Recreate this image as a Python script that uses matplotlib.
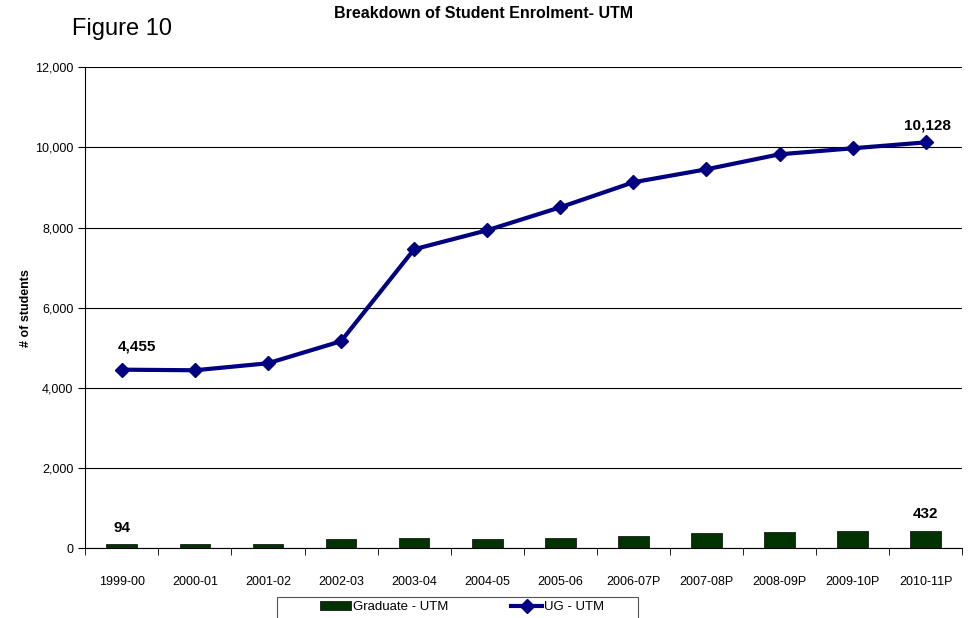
import matplotlib
matplotlib.use("Agg")
import matplotlib.pyplot as plt
from matplotlib.patches import Rectangle
from matplotlib.ticker import FuncFormatter

plt.rcParams['font.family'] = ['Liberation Sans', 'DejaVu Sans']

years = ["1999-00", "2000-01", "2001-02", "2002-03", "2003-04", "2004-05",
         "2005-06", "2006-07P", "2007-08P", "2008-09P", "2009-10P", "2010-11P"]
graduate = [94, 95, 110, 230, 245, 240, 265, 300, 385, 400, 425, 432]
undergrad = [4455, 4440, 4615, 5165, 7460, 7934, 8508, 9132, 9456, 9830, 9980, 10128]

fig = plt.figure(figsize=[9.69, 6.18], dpi=100)
ax = fig.add_axes([0.088, 0.113, 0.905, 0.778])

x = list(range(len(years)))
bars = ax.bar(x, graduate, width=0.42, color="#003300", edgecolor="#1a1a1a",
              linewidth=0.6, label="Graduate - UTM", zorder=3)
line, = ax.plot(x, undergrad, color="#000080", lw=3, marker="D", ms=7,
                label="UG - UTM", zorder=4)

ax.set_xlim(-0.5, len(years) - 0.5)
ax.set_ylim(0, 12000)
ax.set_yticks(range(0, 12001, 2000))
ax.yaxis.set_major_formatter(FuncFormatter(lambda v, p: f"{int(v):,}"))
ax.set_xticks(x)
ax.set_xticklabels(years, fontsize=9)
ax.set_xticks([i - 0.5 for i in range(len(years) + 1)], minor=True)
ax.tick_params(axis="x", which="major", length=0, pad=20)
ax.tick_params(axis="x", which="minor", length=5, direction="out")
ax.tick_params(axis="y", length=5, direction="out", labelsize=9)
ax.grid(axis="y", color="black", lw=0.8, zorder=0)
for side in ["top", "right"]:
    ax.spines[side].set_visible(False)
ax.set_ylabel("# of students", fontsize=9, fontweight="bold", labelpad=2)

# data labels on first and last points
ax.annotate(f"{undergrad[0]:,}", (x[0], undergrad[0]), xytext=(-3, 12),
            textcoords="offset points", ha="left", va="bottom",
            fontsize=11, fontweight="bold")
ax.annotate(f"{undergrad[-1]:,}", (x[-1], undergrad[-1]), xytext=(1, 7),
            textcoords="offset points", ha="center", va="bottom",
            fontsize=11, fontweight="bold")
ax.annotate(f"{graduate[0]}", (x[0], graduate[0]), xytext=(0, 7),
            textcoords="offset points", ha="center", va="bottom",
            fontsize=11, fontweight="bold")
ax.annotate(f"{graduate[-1]}", (x[-1], graduate[-1]), xytext=(0, 7),
            textcoords="offset points", ha="center", va="bottom",
            fontsize=11, fontweight="bold")

fig.text(0.4995, 0.978, "Breakdown of Student Enrolment- UTM", ha="center",
         va="center", fontsize=11.5, fontweight="bold")
fig.text(0.074, 0.953, "Figure 10", ha="left", va="center", fontsize=17)

# legend box (runs off the bottom edge like the original)
fig.patches.append(Rectangle((0.286, -0.02), 0.3725, 0.054, fill=False,
                             edgecolor="#555555", lw=0.8,
                             transform=fig.transFigure, figure=fig))
fig.legend([bars, line], ["Graduate - UTM", "UG - UTM"], loc="center left",
           bbox_to_anchor=(0.323, 0.0175), bbox_transform=fig.transFigure,
           ncol=2, frameon=False, fontsize=9.5, handlelength=2.35,
           columnspacing=4.8, borderpad=0, handletextpad=0.15)

fig.savefig("out.png", dpi=100)
